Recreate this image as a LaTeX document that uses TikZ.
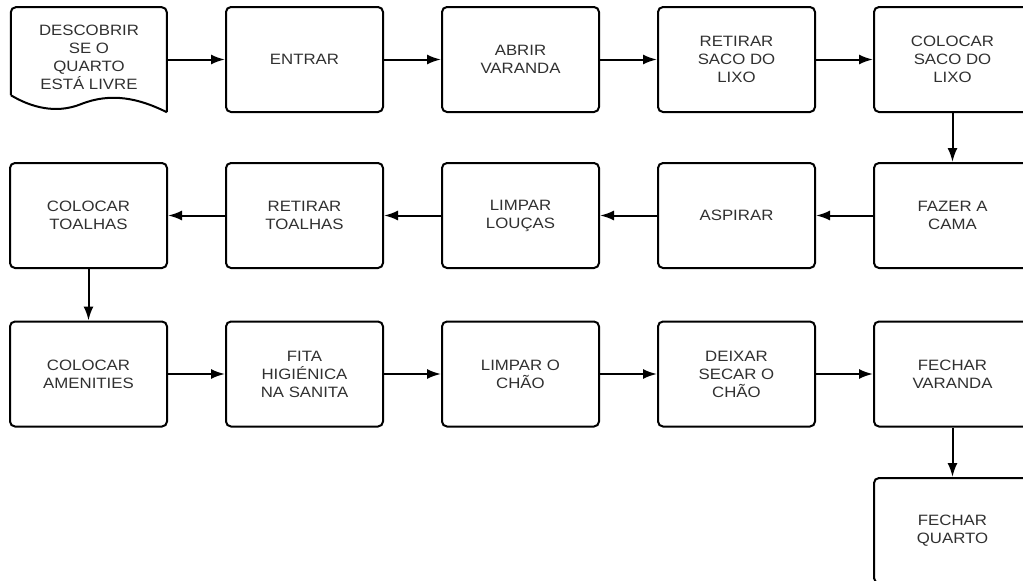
\documentclass[tikz,border=0pt]{standalone}
\usepackage{fontspec}
\setmainfont[FakeStretch=1.12]{Liberation Sans}
\usetikzlibrary{arrows.meta}
\definecolor{txt}{HTML}{303030}
\begin{document}
\begin{tikzpicture}[x=1pt,y=-1pt,
  box/.style={draw=black, line width=2pt, rounded corners=5pt,
    minimum width=157pt, minimum height=105pt, align=center,
    font=\fontsize{15}{18}\selectfont, text=txt, inner sep=0pt},
  doclabel/.style={align=center, font=\fontsize{15}{18}\selectfont, text=txt, inner sep=0pt},
  docline/.style={draw=black, line width=2pt},
  flow/.style={line width=2pt, -{Latex[length=14pt,width=10pt]}}]
\useasboundingbox (0,0) rectangle (1023,581);
\clip (0,0) rectangle (1023,581);
% row 1
\node[minimum width=156pt, minimum height=105pt, inner sep=0pt] (d1) at (89,59.5) {};
\begin{scope}[shift={(d1.south west)}]
  \draw[docline, rounded corners=5pt] (0,-17) -- (0,-105) -- (156,-105) -- (156,0);
  \draw[docline] (156,0) .. controls (128,-14) and (100,-20) .. (70,-8)
     .. controls (45,2) and (20,-5) .. (0,-17);
\end{scope}
\node[doclabel] (t1) at (89,57) {DESCOBRIR\\SE O\\QUARTO\\ESTÁ LIVRE};
\node[box] (b2) at (304.5,59.5) {ENTRAR};
\node[box] (b3) at (520.5,59.5) {ABRIR\\VARANDA};
\node[box] (b4) at (736.5,59.5) {RETIRAR\\SACO DO\\LIXO};
\node[box] (b5) at (952.5,59.5) {COLOCAR\\SACO DO\\LIXO};
% row 2
\node[box] (c5) at (952.5,215.5) {FAZER A\\CAMA};
\node[box] (c4) at (736.5,215.5) {ASPIRAR};
\node[box] (c3) at (520.5,215.5) {LIMPAR\\LOUÇAS};
\node[box] (c2) at (304.5,215.5) {RETIRAR\\TOALHAS};
\node[box] (c1) at (88.5,215.5) {COLOCAR\\TOALHAS};
% row 3
\node[box] (e1) at (88.5,374) {COLOCAR\\AMENITIES};
\node[box] (e2) at (304.5,374) {FITA\\HIGIÉNICA\\NA SANITA};
\node[box] (e3) at (520.5,374) {LIMPAR O\\CHÃO};
\node[box] (e4) at (736.5,374) {DEIXAR\\SECAR O\\CHÃO};
\node[box] (e5) at (952.5,374) {FECHAR\\VARANDA};
% row 4
\node[box] (f5) at (952.5,530.5) {FECHAR\\QUARTO};
% connectors
\draw[flow] (d1.east) -- (b2.west);
\draw[flow] (b2) -- (b3);
\draw[flow] (b3) -- (b4);
\draw[flow] (b4) -- (b5);
\draw[flow] (b5) -- (c5);
\draw[flow] (c5) -- (c4);
\draw[flow] (c4) -- (c3);
\draw[flow] (c3) -- (c2);
\draw[flow] (c2) -- (c1);
\draw[flow] (c1) -- (e1);
\draw[flow] (e1) -- (e2);
\draw[flow] (e2) -- (e3);
\draw[flow] (e3) -- (e4);
\draw[flow] (e4) -- (e5);
\draw[flow] (e5) -- (f5);
\end{tikzpicture}
\end{document}
